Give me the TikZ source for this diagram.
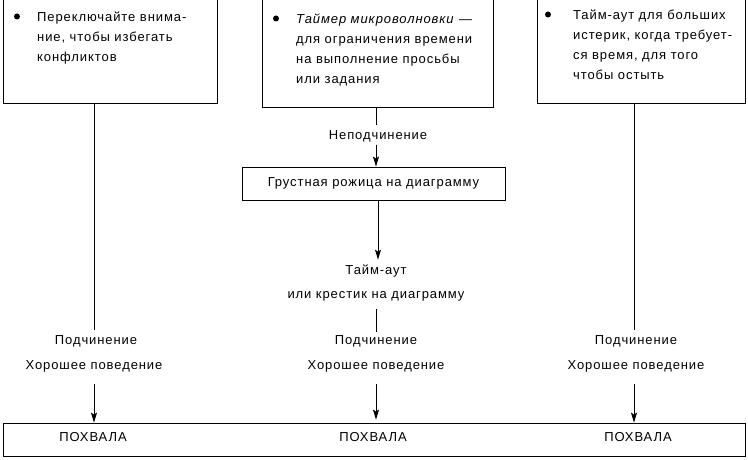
\documentclass[tikz,border=0pt]{standalone}
\usepackage{fontspec}
\setmainfont{Liberation Sans}[LetterSpace=7]
\usetikzlibrary{arrows.meta,calc}
\begin{document}
\begin{tikzpicture}[x=1pt,y=-1pt,
  txt/.style={inner sep=0pt, font=\fontsize{13}{15}\selectfont},
  frame/.style={draw, line width=0.8pt, inner sep=0pt},
  arr/.style={-{Stealth[length=10pt,width=6pt,inset=2pt]}, line width=0.8pt},
  ln/.style={line width=0.8pt},
  bul/.style={circle, fill=black, inner sep=0pt, minimum size=6pt},
  btxt/.style={inner sep=0pt, anchor=north west, align=left, font=\fontsize{13}{20}\selectfont}
]
\useasboundingbox (0,0) rectangle (748,460);
\clip (0,0) rectangle (748,460);

% top boxes
\node[frame, minimum width=214pt, minimum height=123pt] (lbox) at (110,41.5) {};
\node[frame, minimum width=231pt, minimum height=127pt] (mbox) at (377.5,43.5) {};
\node[frame, minimum width=208pt, minimum height=123pt] (rbox) at (641,41.5) {};

\node[bul] (lbul) at (17,16.5) {};
\node[btxt] (ltxt) at (37,11.5) {Переключайте внима-\\ние, чтобы избегать\\конфликтов};
\node[bul] (mbul) at (276,18.5) {};
\node[btxt] (mtxt) at (296,13.5) {\textit{Таймер микроволновки} —\\для ограничения времени\\на выполнение просьбы\\или задания};
\node[bul] (rbul) at (548,14.5) {};
\node[btxt] (rtxt) at (573,9.5) {Тайм-аут для больших\\истерик, когда требует-\\ся время, для того\\чтобы остыть};

% middle column
\node[txt] (nepod) at (378,136) {Неподчинение};
\node[frame, minimum width=263pt, minimum height=33pt] (sad) at (373.5,183.5) {\fontsize{13}{15}\selectfont Грустная рожица на диаграмму};
\node[txt] (tout) at (376,271) {Тайм-аут};
\node[txt] (cross) at (376,296) {или крестик на диаграмму};
\node[txt] (msub) at (376,341) {Подчинение};
\node[txt] (mgood) at (376,366) {Хорошее поведение};

% left / right columns
\node[txt] (lsub) at (96,341) {Подчинение};
\node[txt] (lgood) at (94,366) {Хорошее поведение};
\node[txt] (rsub) at (636,341) {Подчинение};
\node[txt] (rgood) at (636,366) {Хорошее поведение};

% bottom box
\node[frame, minimum width=742pt, minimum height=33pt] (praise) at (374,439.5) {};
\node[txt] (p1) at (93,437) {ПОХВАЛА};
\node[txt] (p2) at (373,437) {ПОХВАЛА};
\node[txt] (p3) at (638,437) {ПОХВАЛА};

% connectors
\coordinate (lx) at (94,0);
\coordinate (mx) at (376,0);
\coordinate (mx2) at (378,0);
\coordinate (rx) at (634,0);

\draw[ln] (lbox.south -| lx) -- ($(lsub.north -| lx)+(0,-5)$);
\draw[arr] ($(lgood.south -| lx)+(0,12)$) -- (praise.north -| lx);
\draw[ln] (rbox.south -| rx) -- ($(rsub.north -| rx)+(0,-5)$);
\draw[arr] ($(rgood.south -| rx)+(0,12)$) -- (praise.north -| rx);

\draw[ln] (mbox.south -| mx) -- ($(nepod.north -| mx)+(0,-5)$);
\draw[arr] ($(nepod.south -| mx)+(0,3)$) -- (sad.north -| mx);
\draw[arr] (sad.south -| mx2) -- ($(tout.north -| mx2)+(0,-5)$);
\draw[ln] ($(cross.south -| mx)+(0,8)$) -- ($(msub.north -| mx)+(0,-3)$);
\draw[arr] ($(mgood.south -| mx)+(0,12)$) -- ($(praise.north -| mx)+(0,-3)$);
\end{tikzpicture}
\end{document}
